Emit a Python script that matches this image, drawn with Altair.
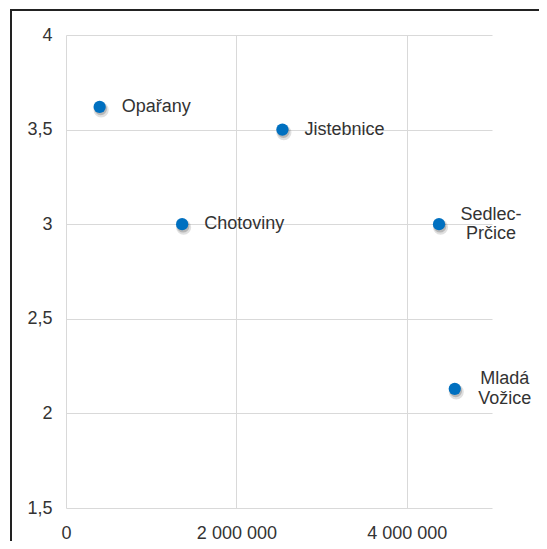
import altair as alt
import pandas as pd

names = ["Opařany", "Chotoviny", "Jistebnice", "Sedlec-Prčice", "Mladá Vožice"]
labels = ["Opařany", "Chotoviny", "Jistebnice", "Sedlec-\nPrčice", "Mladá\nVožice"]
x_values = [395000, 1363000, 2540000, 4378000, 4563000]
y_values = [3.62, 3.0, 3.5, 3.0, 2.13]
x_ticks = [0, 2000000, 4000000]
y_ticks = [1.5, 2.0, 2.5, 3.0, 3.5, 4.0]

df = pd.DataFrame({"name": names, "label": labels, "x": x_values, "y": y_values})

W, H = 426, 473
FONT = "Liberation Sans"
TXT = "#333333"

base = alt.Chart(df)

xenc = alt.X("x:Q", scale=alt.Scale(domain=[0, 5000000], nice=False),
             axis=alt.Axis(values=x_ticks, format=",.0f", title=None, labelPadding=16,
                           labelFlush=False, labelFontSize=18, labelFont=FONT, labelColor=TXT))
yenc = alt.Y("y:Q", scale=alt.Scale(domain=[1.5, 4], nice=False, zero=False),
             axis=alt.Axis(values=y_ticks, format=".1~f", title=None, labelPadding=14,
                           labelFontSize=18, labelFont=FONT, labelColor=TXT))

shadow1 = base.mark_point(filled=True, color="#000000", opacity=0.12, size=230,
                          xOffset=1.5, yOffset=3).encode(x=xenc, y=yenc)
shadow2 = base.mark_point(filled=True, color="#000000", opacity=0.18, size=160,
                          xOffset=1, yOffset=2).encode(x="x:Q", y="y:Q")
dots = base.mark_point(filled=True, color="#0070C0", opacity=1, size=150).encode(x="x:Q", y="y:Q")

single = base.transform_filter(
    "indexof(datum.label, '\\n') < 0"
).mark_text(align="left", baseline="middle", dx=22, font=FONT, fontSize=18, color=TXT).encode(
    x="x:Q", y="y:Q", text="label:N")

sedlec = base.transform_filter(
    "datum.name == 'Sedlec-Prčice'"
).mark_text(align="center", baseline="middle", dx=52, dy=-9, font=FONT, fontSize=18, color=TXT,
            lineBreak="\n", lineHeight=19).encode(x="x:Q", y="y:Q", text="label:N")

mlada = base.transform_filter(
    "datum.name == 'Mladá Vožice'"
).mark_text(align="center", baseline="middle", dx=50, dy=-10, font=FONT, fontSize=18, color=TXT,
            lineBreak="\n", lineHeight=20).encode(x="x:Q", y="y:Q", text="label:N")

frame_left = base.mark_rule(color="#222222", strokeWidth=2).encode(
    x=alt.value(-55), y=alt.value(-25), y2=alt.value(H + 60))
frame_top = base.mark_rule(color="#222222", strokeWidth=2).encode(
    x=alt.value(-56), x2=alt.value(W + 80), y=alt.value(-25))

chart = alt.layer(shadow1, shadow2, dots, single, sedlec, mlada, frame_left, frame_top).properties(
    width=W, height=H,
    padding={"left": 58, "top": 27, "right": 47, "bottom": 33},
    autosize=alt.AutoSizeParams(type="none"),
    background="white",
).configure(
    locale={"number": {"decimal": ",", "thousands": " ", "grouping": [3], "currency": ["", ""]}}
).configure_view(stroke=None).configure_axis(
    domain=False, ticks=False, tickSize=0, grid=True, gridColor="#d9d9d9", gridWidth=1,
    labelFont=FONT, labelFontSize=18, labelColor=TXT,
)

chart.save("out.html", embed_options={"renderer": "svg", "actions": False})
